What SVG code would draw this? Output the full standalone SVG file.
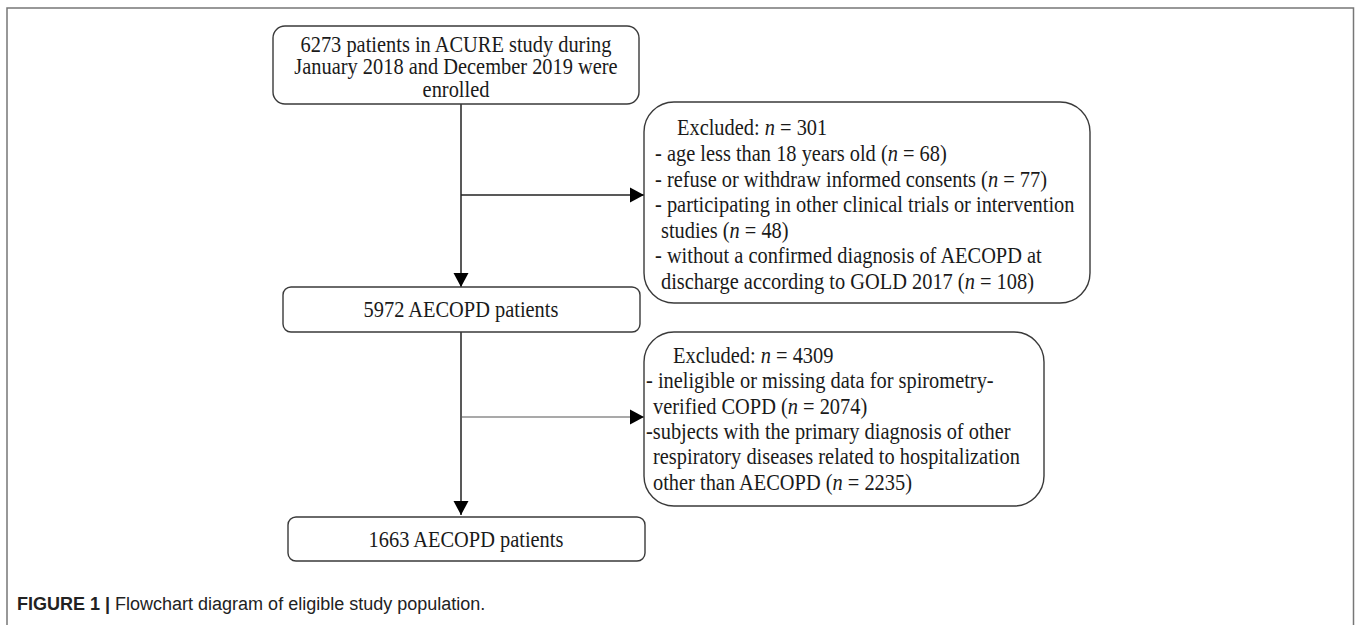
<svg xmlns="http://www.w3.org/2000/svg" width="1355" height="625" viewBox="0 0 1355 625">
<style>
.box{fill:#fff;stroke:#3a3a3a;stroke-width:1.4}
.t{font-family:"Liberation Serif","Times New Roman",serif;font-size:20.4px;fill:#1a1a1a}
.c{text-anchor:middle}
.i{font-style:italic}
.conn{stroke:#222;stroke-width:1.5;fill:none}
.thin{stroke:#555;stroke-width:1.1}
.frame{stroke:#777;stroke-width:1.5;fill:none}
.cap{font-family:"Liberation Sans",Arial,sans-serif;font-size:18px;fill:#222}
</style>
<defs>
<marker id="ah" markerUnits="userSpaceOnUse" markerWidth="16" markerHeight="16" viewBox="0 0 14 16" refX="14" refY="8" orient="auto">
<path d="M0,0.5 L14,8 L0,15.5 Z" fill="#000"/>
</marker>
</defs>
<rect width="1355" height="625" fill="#fff"/>
<path class="frame" d="M7,625 V8 H1353.5 V625"/>
<g id="connectors">
<line class="conn" x1="461" y1="104" x2="461" y2="287" marker-end="url(#ah)"/>
<line class="conn" x1="461" y1="195" x2="644" y2="195" marker-end="url(#ah)"/>
<line class="conn" x1="461" y1="332" x2="461" y2="515" marker-end="url(#ah)"/>
<line class="conn thin" x1="462" y1="417" x2="644" y2="417" marker-end="url(#ah)"/>
</g>
<g id="n1">
<rect class="box" x="273" y="26" width="366" height="78" rx="12"/>
<text class="t c" transform="translate(456,51.5) scale(1,1.08)">6273 patients in ACURE study during</text>
<text class="t c" transform="translate(456,74) scale(1,1.08)">January 2018 and December 2019 were</text>
<text class="t c" transform="translate(456,96.5) scale(1,1.08)">enrolled</text>
</g>
<g id="n2">
<rect class="box" x="644" y="102" width="446" height="201" rx="30"/>
<text class="t" transform="translate(677,135) scale(1,1.08)">Excluded: <tspan class="i">n</tspan> = 301</text>
<text class="t" transform="translate(655,161) scale(1,1.08)">- age less than 18 years old (<tspan class="i">n</tspan> = 68)</text>
<text class="t" transform="translate(655,186.5) scale(1,1.08)">- refuse or withdraw informed consents (<tspan class="i">n</tspan> = 77)</text>
<text class="t" transform="translate(655,212) scale(1,1.08)">- participating in other clinical trials or intervention</text>
<text class="t" transform="translate(661,237.5) scale(1,1.08)">studies (<tspan class="i">n</tspan> = 48)</text>
<text class="t" transform="translate(655,263) scale(1,1.08)">- without a confirmed diagnosis of AECOPD at</text>
<text class="t" transform="translate(661,288.5) scale(1,1.08)">discharge according to GOLD 2017 (<tspan class="i">n</tspan> = 108)</text>
</g>
<g id="n3">
<rect class="box" x="283" y="287" width="357" height="45" rx="8"/>
<text class="t c" transform="translate(461,317) scale(1,1.08)">5972 AECOPD patients</text>
</g>
<g id="n4">
<rect class="box" x="644" y="332" width="400" height="174" rx="30"/>
<text class="t" transform="translate(673,363) scale(1,1.08)">Excluded: <tspan class="i">n</tspan> = 4309</text>
<text class="t" transform="translate(646,388) scale(1,1.08)">- ineligible or missing data for spirometry-</text>
<text class="t" transform="translate(653,413.5) scale(1,1.08)">verified COPD (<tspan class="i">n</tspan> = 2074)</text>
<text class="t" transform="translate(646,439) scale(1,1.08)">-subjects with the primary diagnosis of other</text>
<text class="t" transform="translate(653,464) scale(1,1.08)">respiratory diseases related to hospitalization</text>
<text class="t" transform="translate(653,489.5) scale(1,1.08)">other than AECOPD (<tspan class="i">n</tspan> = 2235)</text>
</g>
<g id="n5">
<rect class="box" x="288" y="517" width="357" height="44" rx="8"/>
<text class="t c" transform="translate(466,547) scale(1,1.08)">1663 AECOPD patients</text>
</g>
<text class="cap" x="17" y="610"><tspan font-weight="bold">FIGURE 1 |</tspan> Flowchart diagram of eligible study population.</text>
</svg>
